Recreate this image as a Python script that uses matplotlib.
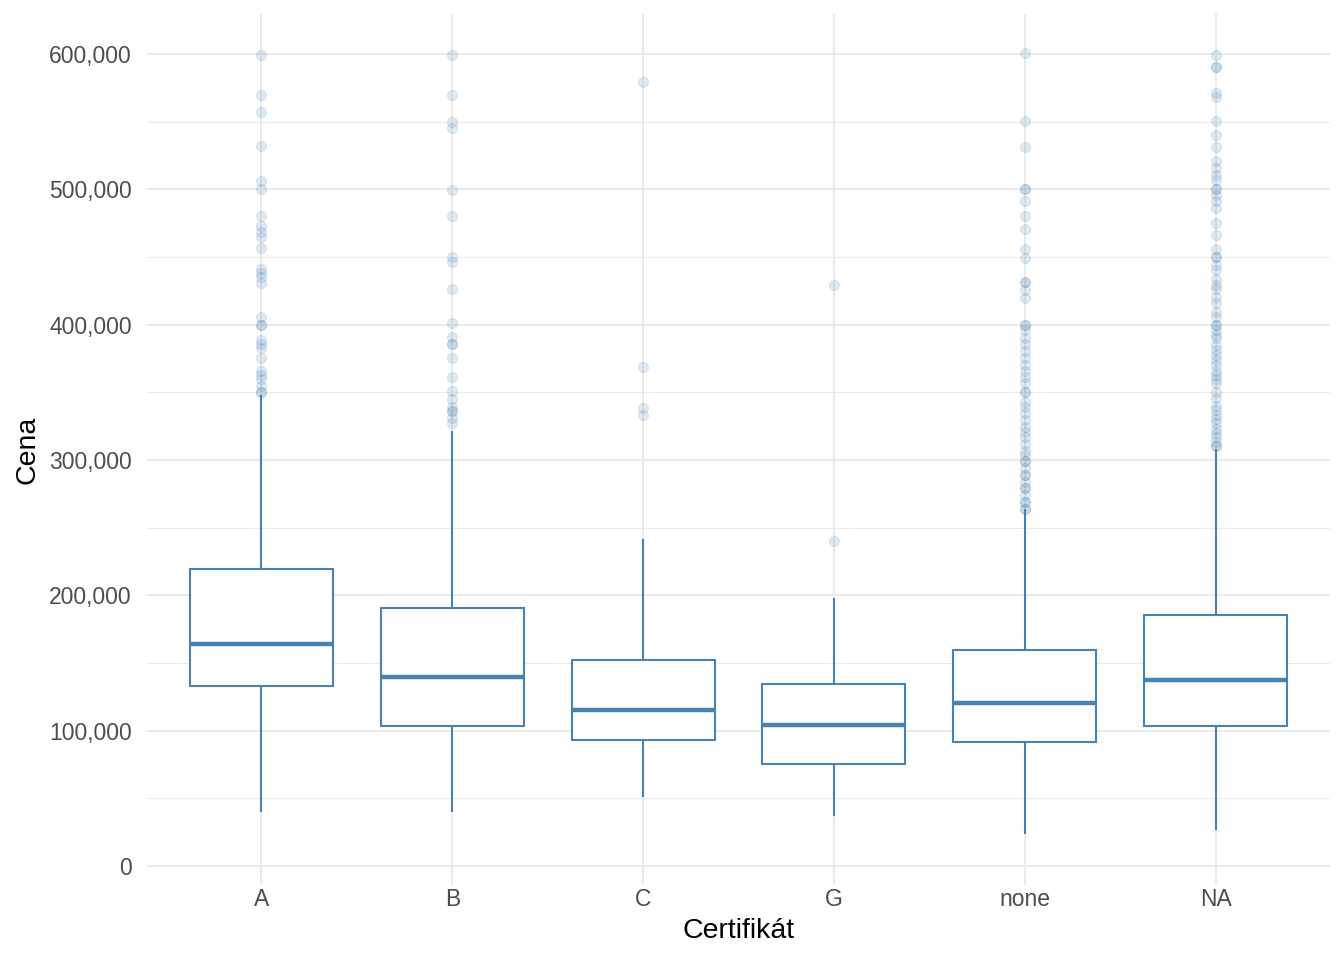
import matplotlib
matplotlib.use("Agg")
import matplotlib.pyplot as plt
from matplotlib.ticker import FuncFormatter, MultipleLocator

categories = ["A", "B", "C", "G", "none", "NA"]
whislo = [40600, 40600, 51700, 37700, 24400, 27300]
q1 = [133000, 103400, 93100, 75400, 91600, 103400]
med = [164000, 139700, 115300, 104200, 120400, 137400]
q3 = [219500, 190600, 152200, 134500, 159600, 185500]
whishi = [347000, 320700, 240900, 197300, 263000, 307400]

out_A = [599000, 570000, 557000, 532000, 506000, 500000, 480000, 473000, 468600, 465000,
         456500, 441000, 438000, 435000, 431000, 406000, 400000, 400000, 389000, 386000,
         383000, 375000, 366000, 363000, 360000, 355000, 350000, 350000]
out_B = [599000, 570000, 550000, 545000, 499500, 480000, 450000, 446000, 426000, 401000,
         391000, 386000, 386000, 375000, 361000, 351000, 345000, 339000, 336000, 336000,
         331000, 327000]
out_C = [579500, 369000, 338600, 333000]
out_G = [429000, 240000]
out_none = [601000, 550500, 531000, 500000, 500000, 491000, 480500, 470600, 456000, 449500,
            431500, 431500, 425600, 419500, 400000, 400000, 396000, 390000, 386000, 380500,
            375000, 370000, 365700, 361000, 357000, 350500, 350500, 343000, 339000, 335000,
            329500, 324600, 321000, 317000, 312000, 307000, 303700, 299500, 299500, 294000,
            289000, 289000, 284000, 279000, 279000, 274000, 269000, 269000, 264000, 264000]
out_NA = [599000, 590000, 590000, 571000, 568000, 550500, 540000, 531000, 521000, 516000,
          510600, 507000, 500000, 500000, 496000, 491000, 486000, 475000, 466000, 456000,
          450000, 450000, 444000, 440000, 433500, 429000, 426000, 420600, 415800, 409500,
          406000, 400000, 400000, 396000, 392000, 390000, 385000, 381000, 377500, 374000,
          370000, 366000, 363000, 360000, 356600, 350500, 345500, 340000, 337000, 333000,
          330000, 327000, 323000, 320000, 317000, 313500, 310000, 310000]
outliers = [out_A, out_B, out_C, out_G, out_none, out_NA]

color = "#4682B4"
plt.rcParams['font.family'] = ['Liberation Sans', 'DejaVu Sans']

fig = plt.figure(figsize=(13.44, 9.6), dpi=100)
ax = fig.add_axes([147/1344, 1 - 885/960, (1330-147)/1344, (885-14)/960])

stats = []
for i, c in enumerate(categories):
    stats.append(dict(label=c, whislo=whislo[i], q1=q1[i], med=med[i], q3=q3[i],
                      whishi=whishi[i], fliers=outliers[i]))

ax.bxp(stats, positions=range(1, 7), widths=0.75, showcaps=False, patch_artist=True,
       boxprops=dict(facecolor="white", edgecolor=color, linewidth=1.5),
       whiskerprops=dict(color=color, linewidth=1.5),
       medianprops=dict(color=color, linewidth=3.2, solid_capstyle="butt"),
       flierprops=dict(marker="o", markersize=7.2, markerfacecolor=(0.275, 0.51, 0.706, 0.16),
                       markeredgecolor=(0.275, 0.51, 0.706, 0.16), markeredgewidth=0.8,
                       linestyle="none"))

ax.set_xlim(0.4, 6.6)
ax.set_ylim(-14000, 629500)
ax.yaxis.set_major_locator(MultipleLocator(100000))
ax.yaxis.set_minor_locator(MultipleLocator(50000))
ax.yaxis.set_major_formatter(FuncFormatter(lambda v, p: f"{int(v):,}"))
ax.set_xticks(range(1, 7))
ax.set_xticklabels(categories)

ax.set_axisbelow(True)
ax.grid(which="major", color="#EBEBEB", linewidth=1.5)
ax.grid(which="minor", axis="y", color="#EBEBEB", linewidth=0.75)
for s in ax.spines.values():
    s.set_visible(False)
ax.tick_params(which="both", length=0, labelsize=16.5, labelcolor="#4D4D4D")
ax.tick_params(axis="y", pad=11)
ax.tick_params(axis="x", pad=2)

ax.set_xlabel("Certifikát", fontsize=20.5, color="black", va="center")
ax.set_ylabel("Cena", fontsize=20.5, color="black", va="center")
ax.xaxis.set_label_coords(0.5, (885 - 931) / 871)
ax.yaxis.set_label_coords((28 - 147) / 1183, 0.5)

fig.savefig("out.png", dpi=100, facecolor="white")
